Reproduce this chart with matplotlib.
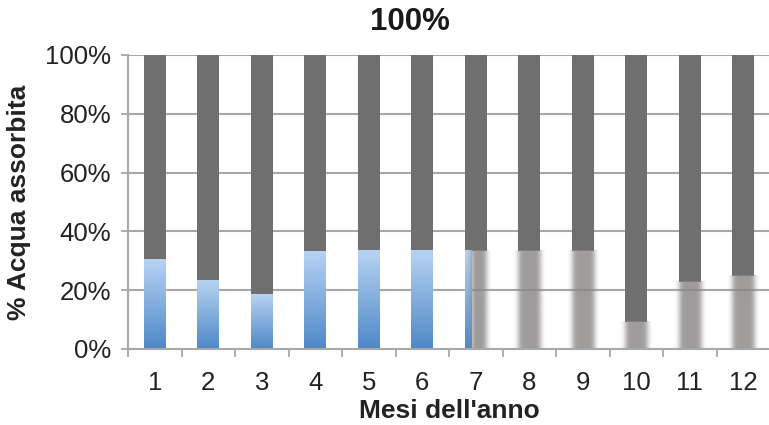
import numpy as np
import matplotlib
matplotlib.use("Agg")
import matplotlib.pyplot as plt
from matplotlib.colors import to_rgb

plt.rcParams['font.family'] = ['Liberation Sans', 'DejaVu Sans']

# monthly share of absorbed water (%), the rest up to 100 is the dark top part
months = [str(m) for m in range(1, 13)]
absorbed = [30.6, 23.2, 18.7, 33.3, 33.5, 33.5, 33.5, 33.5, 33.5, 9.3, 22.9, 24.9]
# months measured (blue) vs estimated (blurred grey); month 7 is only partly measured
measured = [1, 1, 1, 1, 1, 1, 0.3, 0, 0, 0, 0, 0]
yticks = [0, 20, 40, 60, 80, 100]

dark = "#6f6f6f"
blue_top = to_rgb("#b8d3f2")
blue_bot = to_rgb("#4e88c8")
haze = to_rgb("#8a8686")
grid_col = "#a8a8a8"

W, H = 769, 425
fig = plt.figure(figsize=(W / 100, H / 100), dpi=100)
ax = fig.add_axes([128 / W, (H - 349) / H, 642 / W, 294 / H])

x = np.arange(len(months))
bw = 0.41
rest = [100 - v for v in absorbed]

ax.bar(x, rest, bw, bottom=absorbed, color=dark, zorder=3, linewidth=0)

# vertical gradient for the measured part
grad = np.linspace(0, 1, 256)
grad_img = np.zeros((256, 1, 3))
for c in range(3):
    grad_img[:, 0, c] = blue_bot[c] + (blue_top[c] - blue_bot[c]) * grad

# soft-edged strip for the estimated part, width in data units
def haze_strip(width, sigma=0.045, n=240):
    pad = 3 * sigma
    t = np.linspace(-width / 2 - pad, width / 2 + pad, n)
    dt = t[1] - t[0]
    ks = np.arange(-3 * sigma, 3 * sigma + dt, dt)
    k = np.exp(-0.5 * (ks / sigma) ** 2)
    box = (np.abs(t) <= width / 2).astype(float)
    a = np.convolve(box, k / k.sum(), mode="same")
    img = np.zeros((1, n, 4))
    img[0, :, :3] = haze
    img[0, :, 3] = a * 0.82
    return img, pad

for xi, v, m in zip(x, absorbed, measured):
    left = xi - bw / 2
    if m > 0:
        wb = bw * m
        ax.imshow(grad_img, extent=(left, left + wb, 0, v), origin="lower",
                  aspect="auto", zorder=3, interpolation="bilinear")
    if m < 1:
        wg = bw * (1 - m)
        gl = left + bw * m
        img, pad = haze_strip(wg)
        ax.imshow(img, extent=(gl - pad, gl + wg + pad, 0, v),
                  origin="lower", aspect="auto", zorder=3.5,
                  interpolation="bilinear")

ax.set_xlim(-0.5, len(months) - 0.5)
ax.set_ylim(0, 100)

ax.set_yticks(yticks)
ax.set_yticklabels([f"{t}%" for t in yticks], fontsize=18.5, color="#222222")
ax.set_xticks(x)
ax.set_xticklabels(months, fontsize=18.5, color="#222222")
ax.set_xticks(np.arange(len(months) + 1) - 0.5, minor=True)

ax.tick_params(axis="y", length=5, width=1.3, color=grid_col, pad=7)
ax.tick_params(axis="x", which="major", length=0, pad=16)
ax.tick_params(axis="x", which="minor", length=6, width=1.3, color=grid_col)

ax.yaxis.grid(True, color=grid_col, linewidth=1.5, zorder=1)
ax.set_axisbelow(True)
for s in ["top", "right"]:
    ax.spines[s].set_visible(False)
for s in ["left", "bottom"]:
    ax.spines[s].set_color(grid_col)
    ax.spines[s].set_linewidth(1.5)
    ax.spines[s].set_zorder(4)

ax.set_xlabel("Mesi dell'anno", fontsize=19, fontweight="bold", labelpad=3,
              color="#222222")
ax.set_ylabel("% Acqua assorbita", fontsize=19, fontweight="bold", labelpad=10,
              color="#222222")
fig.text(410 / W, 1 - 22 / H, "100%", ha="center", va="center", fontsize=22.5,
         fontweight="bold", color="#1a1a1a")

fig.savefig("out.png", dpi=100)
